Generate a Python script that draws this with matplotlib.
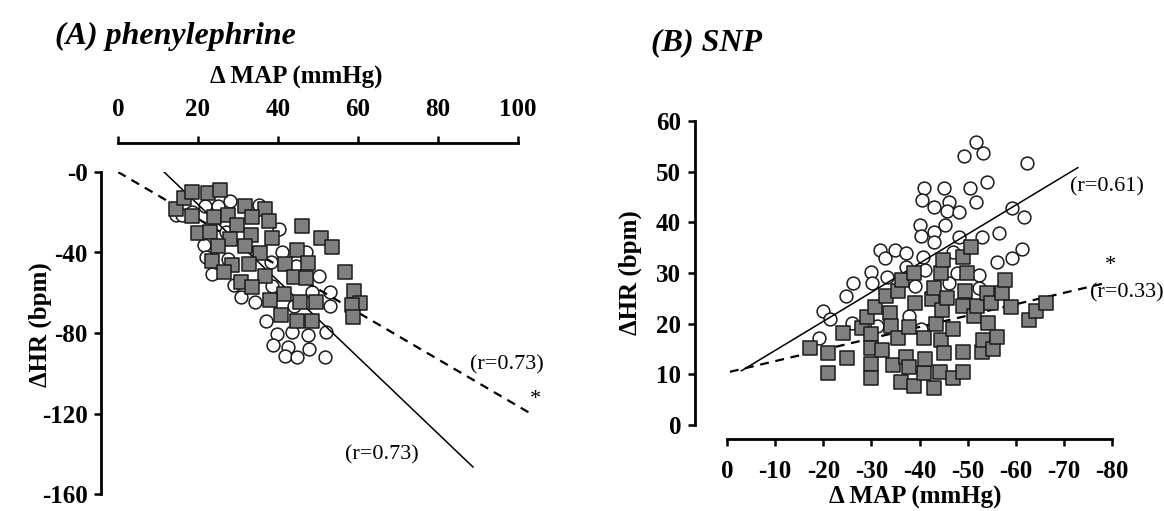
import matplotlib
matplotlib.use('Agg')
import matplotlib.pyplot as plt
import numpy as np

plt.rcParams['font.family'] = ['Liberation Serif', 'DejaVu Serif']
plt.rcParams['axes.unicode_minus'] = False

# ---- (A) phenylephrine : ΔMAP (mmHg) vs ΔHR (bpm) ----
a_sq_x = [14.4, 16.6, 18.6, 22.4, 25.6, 18.6, 24.0, 27.6, 31.7, 36.7, 29.8, 33.5,
          37.7, 20.0, 23.1, 28.0, 33.3, 38.4, 46.1, 50.8, 53.6, 25.1, 31.7, 35.5,
          44.7, 23.6, 28.6, 32.7, 41.7, 47.4, 26.5, 36.7, 43.9, 47.1, 56.8, 30.7,
          33.5, 41.5, 37.9, 45.6, 49.6, 59.1, 60.6, 58.6, 58.8, 40.7, 44.7, 48.4]
a_sq_y = [-18.3, -13.0, -9.7, -10.4, -9.0, -21.9, -22.5, -21.2, -17.0, -18.3, -26.2, -22.2,
          -24.5, -30.5, -29.8, -33.4, -31.1, -32.8, -26.8, -32.8, -37.4, -36.7, -37.0, -40.3,
          -39.0, -44.3, -46.3, -45.6, -45.9, -45.3, -49.9, -51.5, -52.2, -52.8, -49.9, -54.8,
          -57.1, -60.4, -63.4, -64.7, -64.4, -59.1, -65.0, -66.0, -71.9, -71.0, -73.9, -74.2]
a_ci_x = [14.4, 15.9, 18.6, 21.8, 25.1, 28.1, 35.2, 40.2, 27.1, 21.6, 21.9, 27.5,
          23.4, 29.1, 30.8, 34.2, 36.9, 39.7, 43.5, 47.4, 51.9, 38.7, 42.4, 41.7,
          44.7, 47.7, 51.8, 40.9, 46.9, 38.2, 44.5, 50.3, 38.5, 48.6, 52.9, 52.9, 44.0]
a_ci_y = [-21.6, -21.6, -19.9, -17.0, -17.0, -14.3, -16.3, -28.1, -29.8, -36.4, -42.3, -43.0,
          -50.5, -56.1, -62.1, -64.7, -74.2, -80.5, -79.5, -81.1, -79.5, -85.8, -86.8, -91.4,
          -92.0, -88.0, -92.0, -40.0, -39.7, -44.6, -46.6, -51.5, -56.8, -59.4, -59.8, -66.7, -66.7]
a_solid_x = [11.25, 88.75]
a_solid_y = [0.5, -146.6]
a_dash_x = [0.0, 103.75]
a_dash_y = [0.0, -120.7]
a_xticks = [0, 20, 40, 60, 80, 100]
a_yticks = [0, -40, -80, -120, -160]
a_yticklabels = ['-0', '-40', '-80', '-120', '-160']

# ---- (B) SNP ----
b_ci_x = [-19.1, -19.9, -21.4, -24.7, -26.2, -26.0, -30.0, -30.2, -31.8, -32.8, -33.2, -35.0,
          -37.2, -37.1, -39.0, -37.8, -31.1, -40.4, -40.0, -40.4, -40.8, -41.1, -41.0, -40.6,
          -43.1, -43.1, -43.1, -45.1, -46.2, -45.8, -45.2, -48.2, -48.2, -47.0, -46.2, -47.8,
          -49.2, -50.4, -51.8, -51.8, -53.1, -54.1, -53.0, -52.4, -52.4, -56.2, -56.6, -59.2,
          -59.2, -61.2, -61.8, -62.4]
b_ci_y = [17.1, 22.5, 20.9, 25.4, 28.0, 20.2, 30.2, 28.1, 34.5, 32.9, 29.3, 34.5,
          33.9, 31.1, 27.4, 21.5, 19.6, 18.9, 39.5, 37.4, 33.1, 30.6, 46.8, 44.4,
          43.1, 38.1, 36.1, 46.8, 44.1, 42.3, 39.5, 42.0, 37.1, 34.2, 28.0, 30.0,
          53.0, 46.8, 55.9, 44.0, 53.6, 47.9, 37.1, 29.6, 27.0, 32.2, 37.9, 42.8,
          32.9, 34.8, 41.0, 51.8]
b_sq_x = [-17.2, -21.0, -21.0, -24.0, -25.0, -28.0, -29.1, -30.0, -30.0, -30.0, -30.0, -30.8,
          -32.2, -33.0, -33.8, -34.0, -34.4, -35.6, -35.6, -36.4, -36.2, -37.2, -37.8, -37.8,
          -38.8, -38.8, -39.0, -41.0, -41.0, -41.2, -42.6, -43.1, -43.4, -43.0, -44.4, -44.8,
          -44.6, -44.4, -45.0, -44.2, -45.8, -47.0, -47.0, -49.0, -49.8, -49.4, -49.0, -49.0,
          -49.0, -50.8, -51.4, -52.0, -53.0, -53.2, -54.0, -54.2, -54.8, -55.2, -56.2, -57.2,
          -57.8, -59.0, -62.8, -64.2, -66.2]
b_sq_y = [15.2, 14.2, 10.2, 18.1, 13.3, 19.1, 21.4, 18.0, 15.2, 12.1, 9.2, 23.3,
          14.9, 25.4, 22.2, 19.6, 11.8, 17.1, 26.4, 28.7, 8.4, 13.4, 11.5, 19.4,
          30.0, 7.7, 24.1, 17.1, 10.2, 13.1, 24.8, 27.0, 20.0, 7.3, 30.0, 32.6,
          22.6, 16.7, 14.2, 10.5, 25.1, 18.9, 9.2, 33.2, 30.0, 26.4, 23.5, 14.4,
          10.5, 35.2, 21.5, 23.5, 14.4, 16.7, 26.1, 20.2, 24.1, 15.0, 17.3, 26.1,
          28.7, 23.2, 20.7, 22.5, 24.1]
b_solid_x = [-3.0, -72.9]
b_solid_y = [10.7, 50.8]
b_dash_x = [-0.6, -79.0]
b_dash_y = [10.5, 28.1]
b_xticks = [0, -10, -20, -30, -40, -50, -60, -70, -80]
b_yticks = [0, 10, 20, 30, 40, 50, 60]

SQ_FACE = '#7f7f7f'
EDGE = '#1a1a1a'
TICK_SIZE = 18
LABEL_FONT = dict(fontsize=18, fontweight='bold')
R_SIZE = 16


def style_axis(ax):
    ax.tick_params(direction='out', length=5, width=1.8, labelsize=TICK_SIZE)
    ax.tick_params(axis='y', pad=5)
    ax.tick_params(axis='x', pad=10)
    for lab in ax.get_xticklabels() + ax.get_yticklabels():
        lab.set_fontweight('bold')


def draw_points(ax, cx, cy, sx, sy):
    ax.scatter(cx, cy, s=85, marker='o', facecolor='white', edgecolor=EDGE,
               linewidth=1.1, zorder=2, clip_on=False)
    ax.scatter(sx, sy, s=110, marker='s', facecolor=SQ_FACE, edgecolor=EDGE,
               linewidth=1.1, zorder=3, clip_on=False)


W, H = 1164, 511
fig = plt.figure(figsize=(W / 100, H / 100), dpi=100)

# panel A : x axis on top, y downward negative
axA = fig.add_axes([118 / W, (H - 494) / H, 424 / W, 322 / H])
axA.set_xlim(0, 106)
axA.set_ylim(-160, 0)
draw_points(axA, a_ci_x, a_ci_y, a_sq_x, a_sq_y)
axA.plot(a_solid_x, a_solid_y, color='black', lw=1.1, zorder=2.5)
axA.plot(a_dash_x, a_dash_y, color='black', lw=1.6, ls=(0, (4, 3)), zorder=2.5)
axA.spines['bottom'].set_visible(False)
axA.spines['right'].set_visible(False)
axA.spines['top'].set_position(('outward', 21))
axA.spines['left'].set_position(('outward', 12))
axA.spines['top'].set_bounds(0, 100)
axA.spines['left'].set_bounds(-160, 0)
for s in ('top', 'left'):
    axA.spines[s].set_linewidth(2.0)
axA.xaxis.tick_top()
axA.set_xticks(a_xticks)
axA.set_yticks(a_yticks)
axA.set_yticklabels(a_yticklabels)
style_axis(axA)
axA.tick_params(axis='x', pad=11)
axA.set_xlabel('Δ MAP (mmHg)', **LABEL_FONT)
axA.xaxis.set_label_position('top')
axA.xaxis.label.set_va('center')
axA.xaxis.set_label_coords(0.42, (494 - 77) / 322)
axA.set_ylabel('ΔHR (bpm)', va='center', **LABEL_FONT)
axA.yaxis.set_label_coords((40 - 118) / 424, (494 - 325) / 322)
axA.text(97.2, -95.9, '(r=0.73)', fontsize=R_SIZE, ha='center', va='center')
axA.text(66.0, -140.6, '(r=0.73)', fontsize=R_SIZE, ha='center', va='center')
axA.text(104.3, -113.0, '*', fontsize=R_SIZE, ha='center', va='center')

# panel B
axB = fig.add_axes([727 / W, (H - 425) / H, 385 / W, 304 / H])
axB.set_xlim(0, -80)
axB.set_ylim(0, 60)
draw_points(axB, b_ci_x, b_ci_y, b_sq_x, b_sq_y)
axB.plot(b_solid_x, b_solid_y, color='black', lw=1.1, zorder=2.5)
axB.plot(b_dash_x, b_dash_y, color='black', lw=1.6, ls=(0, (4, 3)), zorder=2.5)
axB.spines['top'].set_visible(False)
axB.spines['right'].set_visible(False)
axB.spines['left'].set_position(('outward', 23))
axB.spines['bottom'].set_position(('outward', 10))
axB.spines['left'].set_bounds(0, 60)
axB.spines['bottom'].set_bounds(0, -80)
for s in ('bottom', 'left'):
    axB.spines[s].set_linewidth(2.0)
axB.set_xticks(b_xticks)
axB.set_yticks(b_yticks)
style_axis(axB)
axB.set_xlabel('Δ MAP (mmHg)', va='center', **LABEL_FONT)
axB.xaxis.set_label_coords(0.49, (425 - 497) / 304)
axB.set_ylabel('ΔHR (bpm)', va='center', **LABEL_FONT)
axB.yaxis.set_label_coords((630 - 727) / 385, 0.5)
axB.text(-79.0, 47.0, '(r=0.61)', fontsize=R_SIZE, ha='center', va='center', clip_on=False)
axB.text(-83.0, 26.0, '(r=0.33)', fontsize=R_SIZE, ha='center', va='center', clip_on=False)
axB.text(-79.6, 31.5, '*', fontsize=R_SIZE, ha='center', va='center', clip_on=False)

# panel titles
fig.text(55 / W, 1 - 36 / H, '(A) phenylephrine', fontsize=23, fontweight='bold',
         fontstyle='italic', va='center', ha='left')
fig.text(651 / W, 1 - 43 / H, '(B) SNP', fontsize=23, fontweight='bold',
         fontstyle='italic', va='center', ha='left')

fig.savefig('out.png', dpi=100)
